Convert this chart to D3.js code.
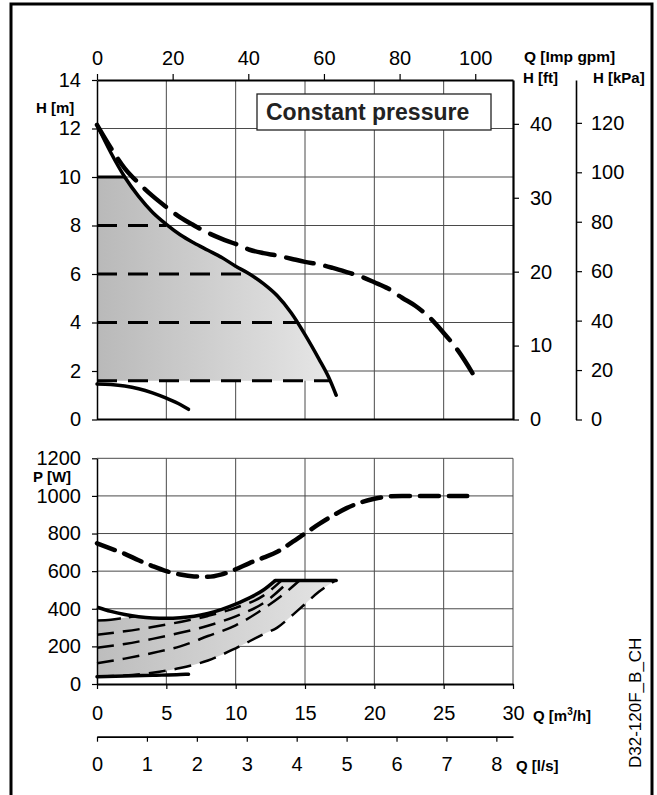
<!DOCTYPE html>
<html><head><meta charset="utf-8">
<script src="https://cdn.jsdelivr.net/npm/d3@7"></script>
<style>body{margin:0;background:#fff} svg{display:block}</style>
</head><body><svg id="c" width="657" height="795"></svg>
<script>
// ---------- tick labels ----------
const qTicks = [0,5,10,15,20,25,30];          // m3/h
const gpmTicks = [0,20,40,60,80,100];          // Imp gpm
const lsTicks = [0,1,2,3,4,5,6,7,8];           // l/s
const hTicks = [0,2,4,6,8,10,12,14];           // m
const ftTicks = [0,10,20,30,40];               // ft
const kpaTicks = [0,20,40,60,80,100,120];      // kPa
const pTicks = [0,200,400,600,800,1000,1200];  // W

// ---------- head curves (Q m3/h, H m) ----------
const maxQ = [0,1,2,3,4,5,6,7,8,9,10,11,12,13,14,15,16,16.7,17.25];
const maxH = [12.15,11.0,10.0,9.2,8.55,8.05,7.62,7.28,6.98,6.68,6.32,6.0,5.6,5.1,4.4,3.5,2.5,1.75,1.0];
const max2Q = [0,1,2,3,4,5,6,7,8,9,10,11,12,13,14,15,16,17,18,19,20,21,22,23,24,25,26,27.25];
const max2H = [12.15,11.2,10.36,9.75,9.22,8.76,8.33,8.0,7.7,7.45,7.24,7.0,6.86,6.76,6.63,6.5,6.4,6.25,6.08,5.9,5.66,5.4,5.02,4.67,4.2,3.57,2.87,1.75];
const minQ = [0,1,2,3,4,5,6,6.6];
const minH = [1.46,1.44,1.38,1.27,1.1,0.88,0.62,0.42];
const setH = [8,6,4,1.6];            // constant pressure set points
const setEndQ = [5.0,10.6,14.4,16.8];
const limitH = 10, limitEndQ = 2.0;  // max set point line

// ---------- power curves (Q m3/h, P W) ----------
const pMax2Q = [0,1,2,3,4,5,6,7,8,9,10,11,12,13,14,15,16,17,18,19,20,21,22,26.7];
const pMax2P = [748,720,692,658,627,600,582,572,570,583,610,643,672,703,750,800,850,895,935,965,985,997,1000,1000];
const pMaxQ = [0,1,2,3,4,5,6,7,8,9,10,11,12,12.85];
const pMaxP = [408,386,370,358,351,349,352,360,375,397,425,458,500,550];
const pLimit = 550, pLimitEndQ = 17.25;
const pTopQ = [0,1,2,2.8];
const pTopP = [338,342,352,360];
const pAQ = [0,2,4,6,8,10,12,13.3];
const pAP = [262,280,303,330,362,405,470,550];
const pBQ = [0,2,4,6,8,10,12,13.9];
const pBP = [193,213,240,272,310,360,430,550];
const pCQ = [0,2,4,6,8,10,12,13.5,14.6];
const pCP = [110,135,165,200,255,312,400,480,550];
const pDQ = [0,2,4,6,8,10,12,13,14,15,16,17.2];
const pDP = [40,45,60,85,125,190,265,300,360,425,490,550];
const pMinQ = [0,2,4,6,6.6];
const pMinP = [39,42,46,50,52];

// ---------- scales ----------
const X0 = 97, X1 = 513;
const x = d3.scaleLinear().domain([0,30]).range([X0,X1]);
const xGpm = d3.scaleLinear().domain([0,30*3.6661]).range([X0,X1]);
const xLs = d3.scaleLinear().domain([0,30/3.6]).range([X0,X1]);
const yH = d3.scaleLinear().domain([0,14]).range([419.5,80]);
const yFt = d3.scaleLinear().domain([0,14/0.3048]).range([419.5,80]);
const yKpa = d3.scaleLinear().domain([0,14*9.81]).range([419.5,80]);
const yP = d3.scaleLinear().domain([0,1200]).range([684,458.3]);

const svg = d3.select('#c');
const FONT = "'Liberation Sans', Arial, Helvetica, sans-serif";
svg.style('font-family', FONT);

// outer frame
svg.append('rect').attr('x',11).attr('y',4).attr('width',641).attr('height',805)
  .attr('fill','none').attr('stroke','#000').attr('stroke-width',3);

const defs = svg.append('defs');
function grad(id, x1, x2, c1, c2){
  const g = defs.append('linearGradient').attr('id',id).attr('gradientUnits','userSpaceOnUse')
    .attr('x1',x1).attr('x2',x2).attr('y1',0).attr('y2',0);
  g.append('stop').attr('offset',0).attr('stop-color',c1);
  g.append('stop').attr('offset',1).attr('stop-color',c2);
}
grad('g1', X0, 330, '#b9b9b9', '#e6e6e6');
grad('g2', X0, 335, '#bdbdbd', '#e4e4e4');

const zip = (a,b)=>a.map((v,i)=>[v,b[i]]);
const GRID = '#4a4a4a';

// ---------- grids ----------
const gTop = svg.append('g');
gTop.selectAll('line.v').data(qTicks.filter(d=>d>0&&d<30)).enter().append('line')
  .attr('x1',d=>x(d)).attr('x2',d=>x(d)).attr('y1',yH(14)).attr('y2',yH(0))
  .attr('stroke',GRID).attr('stroke-width',1);
gTop.selectAll('line.h').data(hTicks.filter(d=>d>0&&d<14)).enter().append('line')
  .attr('x1',X0).attr('x2',X1).attr('y1',d=>yH(d)).attr('y2',d=>yH(d))
  .attr('stroke',GRID).attr('stroke-width',1);

const gBot = svg.append('g');
gBot.selectAll('line.v').data(qTicks.filter(d=>d>0)).enter().append('line')
  .attr('x1',d=>x(d)).attr('x2',d=>x(d)).attr('y1',yP(1200)).attr('y2',yP(0))
  .attr('stroke',GRID).attr('stroke-width',1);
gBot.selectAll('line.h').data(pTicks.filter(d=>d>0)).enter().append('line')
  .attr('x1',X0).attr('x2',X1).attr('y1',d=>yP(d)).attr('y2',d=>yP(d))
  .attr('stroke',GRID).attr('stroke-width',1);

// ---------- top fills ----------
const lineH = d3.line().x(d=>x(d[0])).y(d=>yH(d[1])).curve(d3.curveMonotoneX);
const lineP = d3.line().x(d=>x(d[0])).y(d=>yP(d[1])).curve(d3.curveMonotoneX);
const straight = d3.line();

defs.append('clipPath').attr('id','clipTop').append('rect')
  .attr('x',X0).attr('y',yH(limitH)).attr('width',X1-X0).attr('height',yH(setH[3])-yH(limitH));
const maxPts = zip(maxQ,maxH);
svg.append('path')
  .attr('d', lineH(maxPts) + `L${x(maxQ[maxQ.length-1])},${yH(0)}L${x(0)},${yH(0)}Z`)
  .attr('fill','url(#g1)').attr('clip-path','url(#clipTop)');

// ---------- bottom fill ----------
const topPts = zip(pTopQ,pTopP).concat(zip(pMaxQ,pMaxP).filter(d=>d[0]>=3));
const dPts = zip(pDQ,pDP);
defs.append('clipPath').attr('id','clipBot').append('path')
  .attr('d', lineP(dPts) + `L${x(pDQ[pDQ.length-1])},${yP(1200)}L${x(0)},${yP(1200)}Z`);
svg.append('path')
  .attr('d', lineP(topPts) + `L${x(pLimitEndQ)},${yP(pLimit)}L${x(pLimitEndQ)},${yP(0)}L${x(0)},${yP(0)}Z`)
  .attr('fill','url(#g2)').attr('clip-path','url(#clipBot)');

// ---------- top curves ----------
const curves = svg.append('g').attr('fill','none').attr('stroke','#000').attr('stroke-linecap','butt');
setH.forEach((h,i)=>{
  curves.append('path').attr('d', straight([[x(0),yH(h)],[x(setEndQ[i]),yH(h)]]))
    .attr('stroke-width',3).attr('stroke-dasharray','20,11');
});
curves.append('path').attr('d', straight([[x(0),yH(limitH)],[x(limitEndQ),yH(limitH)]]))
  .attr('stroke-width',3);
curves.append('path').attr('d', lineH(zip(max2Q,max2H)))
  .attr('stroke-width',4.5).attr('stroke-dasharray','28,12').attr('stroke-linecap','round');
curves.append('path').attr('d', lineH(maxPts)).attr('stroke-width',3.5).attr('stroke-linecap','round');
curves.append('path').attr('d', lineH(zip(minQ,minH))).attr('stroke-width',3.5).attr('stroke-linecap','round');

// ---------- bottom curves ----------
[[pAQ,pAP],[pBQ,pBP],[pCQ,pCP],[pDQ,pDP]].forEach(([q,p])=>{
  curves.append('path').attr('d', lineP(zip(q,p))).attr('stroke-width',2.5).attr('stroke-dasharray','17,9');
});
curves.append('path').attr('d', lineP(zip(pTopQ,pTopP))).attr('stroke-width',2.5).attr('stroke-dasharray','24,8');
curves.append('path').attr('d', lineP(zip(pMaxQ,pMaxP))).attr('stroke-width',3.5);
curves.append('path').attr('d', straight([[x(pMaxQ[pMaxQ.length-1]),yP(pLimit)],[x(pLimitEndQ),yP(pLimit)]]))
  .attr('stroke-width',3.5).attr('stroke-linecap','round');
curves.append('path').attr('d', lineP(zip(pMinQ,pMinP))).attr('stroke-width',3.5).attr('stroke-linecap','round');
curves.append('path').attr('d', lineP(zip(pMax2Q,pMax2P)))
  .attr('stroke-width',4.5).attr('stroke-dasharray','19,10').attr('stroke-linecap','round');

// ---------- axes ----------
function styleAxis(g, w){
  g.selectAll('text').style('font-family',FONT).style('font-size','20px').attr('fill','#000');
  g.selectAll('line').attr('stroke','#000').attr('stroke-width',1.2);
  g.select('.domain').attr('stroke','#000').attr('stroke-width',w);
}
const fmt = d3.format('d');
// top chart
styleAxis(svg.append('g').attr('transform',`translate(${X0},0)`)
  .call(d3.axisLeft(yH).tickValues(hTicks).tickFormat(fmt).tickSize(5).tickSizeOuter(0).tickPadding(11)), 1.5);
styleAxis(svg.append('g').attr('transform',`translate(0,${yH(14)})`)
  .call(d3.axisTop(xGpm).tickValues(gpmTicks).tickFormat(fmt).tickSize(6).tickSizeOuter(0).tickPadding(9)), 2);
styleAxis(svg.append('g').attr('transform',`translate(${X1},0)`)
  .call(d3.axisRight(yFt).tickValues(ftTicks).tickFormat(fmt).tickSize(6).tickSizeOuter(0).tickPadding(11)), 2.2);
styleAxis(svg.append('g').attr('transform',`translate(576,0)`)
  .call(d3.axisRight(yKpa).tickValues(kpaTicks).tickFormat(fmt).tickSize(6).tickSizeOuter(0).tickPadding(9)), 1.6);
svg.append('line').attr('x1',X0).attr('x2',X1).attr('y1',yH(0)).attr('y2',yH(0))
  .attr('stroke','#000').attr('stroke-width',2.2);
// bottom chart
styleAxis(svg.append('g').attr('transform',`translate(${X0},0)`)
  .call(d3.axisLeft(yP).tickValues(pTicks).tickFormat(fmt).tickSize(5).tickSizeOuter(0).tickPadding(11)), 1.5);
styleAxis(svg.append('g').attr('transform',`translate(0,${yP(0)})`)
  .call(d3.axisBottom(x).tickValues(qTicks).tickFormat(fmt).tickSize(5).tickSizeOuter(0).tickPadding(17)), 2.2);
styleAxis(svg.append('g').attr('transform',`translate(0,736.7)`)
  .call(d3.axisBottom(xLs).tickValues(lsTicks).tickFormat(fmt).tickSize(5).tickSizeOuter(0).tickPadding(15)), 1.8);

// ---------- legend box ----------
svg.append('rect').attr('x',257).attr('y',94).attr('width',234).attr('height',36)
  .attr('fill','#fff').attr('stroke','#222').attr('stroke-width',1.3);
svg.append('text').attr('x',266).attr('y',120).text('Constant pressure')
  .style('font-weight','bold').style('font-size','23px').attr('fill','#222');

// ---------- unit labels ----------
function lab(t,xx,yy,size){
  return svg.append('text').attr('x',xx).attr('y',yy).text(t)
    .style('font-weight','bold').style('font-size',(size||15)+'px').attr('fill','#000');
}
lab('H [m]',36,113);
lab('P [W]',33,482);
lab('Q [Imp gpm]',524,62,15.5);
lab('H [ft]',523,83);
lab('H [kPa]',593,83);
const qm = svg.append('text').attr('x',533).attr('y',721).style('font-weight','bold').style('font-size','15px');
qm.append('tspan').text('Q [m');
qm.append('tspan').text('3').style('font-size','10px').attr('dy',-6);
qm.append('tspan').text('/h]').attr('dy',6);
lab('Q [l/s]',516,771);
svg.append('text').attr('transform','translate(641,768) rotate(-90)').text('D32-120F_B_CH')
  .style('font-size','17px').attr('fill','#000');
</script></body></html>
